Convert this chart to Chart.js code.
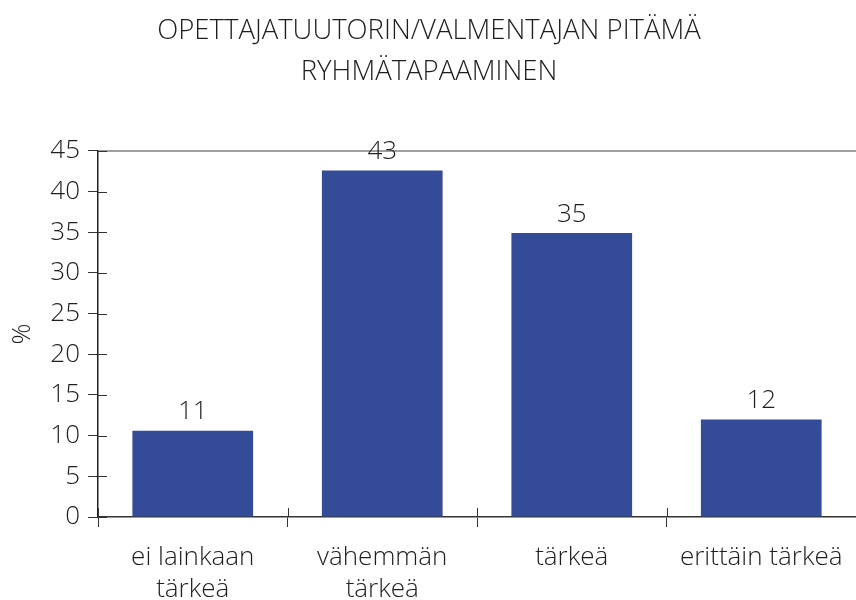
<!DOCTYPE html>
<html>
<head>
<meta charset="utf-8">
<script src="https://cdn.jsdelivr.net/npm/chart.js@4"></script>
<style>
  body { margin: 0; background: #fff; }
</style>
</head>
<body>
<canvas id="chart" width="856" height="600"></canvas>
<script>
const categories = [["ei lainkaan", "tärkeä"], ["vähemmän", "tärkeä"], "tärkeä", "erittäin tärkeä"];
const values = [10.6, 42.6, 34.9, 12.0];
const valueLabels = ["11", "43", "35", "12"];
const yTicks = [0, 5, 10, 15, 20, 25, 30, 35, 40, 45];

const FONT = "'Open Sans', 'Noto Sans', sans-serif";
const TEXT = "#1e1e1e";
const SIZE = 26;

// arvot pylväiden päälle + akselien sisäpuoliset merkit + yläreuna
const extras = {
    id: "extras",
    afterDraw(chart) {
        const ctx = chart.ctx;
        const area = chart.chartArea;
        const x = chart.scales.x;
        const y = chart.scales.y;
        ctx.save();

        // yläreunan viiva
        ctx.strokeStyle = "#7f7f7f";
        ctx.lineWidth = 1.5;
        ctx.beginPath();
        ctx.moveTo(area.left, area.top);
        ctx.lineTo(area.right, area.top);
        ctx.stroke();

        // y-akselin merkit sisäpuolelle
        ctx.strokeStyle = "#333";
        ctx.lineWidth = 1;
        yTicks.forEach(v => {
            const py = Math.round(y.getPixelForValue(v)) + 0.5;
            ctx.beginPath();
            ctx.moveTo(area.left, py);
            ctx.lineTo(area.left + 9, py);
            ctx.stroke();
        });

        // x-akselin merkit ylöspäin
        for (let i = 0; i <= categories.length; i++) {
            const px = Math.round((x.getPixelForValue(i - 1) + x.getPixelForValue(i)) / 2) + 0.5;
            ctx.beginPath();
            ctx.moveTo(px, area.bottom);
            ctx.lineTo(px, area.bottom - 9);
            ctx.stroke();
        }

        // arvot
        ctx.fillStyle = TEXT;
        ctx.font = "300 " + SIZE + "px " + FONT;
        ctx.textAlign = "center";
        ctx.textBaseline = "middle";
        chart.getDatasetMeta(0).data.forEach((bar, i) => {
            ctx.fillText(valueLabels[i], bar.x, bar.y - 19);
        });
        ctx.restore();
    }
};

new Chart(document.getElementById("chart"), {
    type: "bar",
    data: {
        labels: categories,
        datasets: [{
            data: values,
            backgroundColor: "#344b98",
            barPercentage: 0.637,
            categoryPercentage: 1
        }]
    },
    options: {
        responsive: false,
        animation: false,
        layout: { padding: { left: 0, top: 0, bottom: 0, right: -2 } },
        plugins: {
            legend: { display: false },
            tooltip: { enabled: false },
            title: {
                display: true,
                text: ["OPETTAJATUUTORIN/VALMENTAJAN PITÄMÄ", "RYHMÄTAPAAMINEN"],
                color: TEXT,
                font: { family: FONT, size: 27.5, weight: 300, lineHeight: 1.49 },
                padding: { top: 11, bottom: 58 }
            }
        },
        scales: {
            x: {
                grid: {
                    display: true,
                    drawOnChartArea: false,
                    offset: true,
                    tickLength: 10,
                    color: "#333"
                },
                border: { color: "#333", width: 1.5 },
                ticks: {
                    color: TEXT,
                    padding: 15,
                    maxRotation: 0,
                    autoSkip: false,
                    font: { family: FONT, size: SIZE, weight: 300, lineHeight: 1.23 }
                },
                afterFit(scale) {
                    scale.height = 83;
                    scale.paddingRight = 0;
                }
            },
            y: {
                min: 0,
                max: 45,
                afterBuildTicks(scale) { scale.ticks = yTicks.map(v => ({ value: v })); },
                grid: {
                    display: true,
                    drawOnChartArea: false,
                    tickLength: 10,
                    color: "#333"
                },
                border: { color: "#222", width: 1.5 },
                ticks: {
                    color: TEXT,
                    padding: 8,
                    font: { family: FONT, size: SIZE, weight: 300 }
                },
                title: {
                    display: true,
                    text: "%",
                    color: TEXT,
                    font: { family: FONT, size: SIZE, weight: 300 },
                    padding: { top: 7, bottom: 0 }
                },
                afterFit(scale) { scale.width = 98; }
            }
        }
    },
    plugins: [extras]
});
</script>
</body>
</html>
